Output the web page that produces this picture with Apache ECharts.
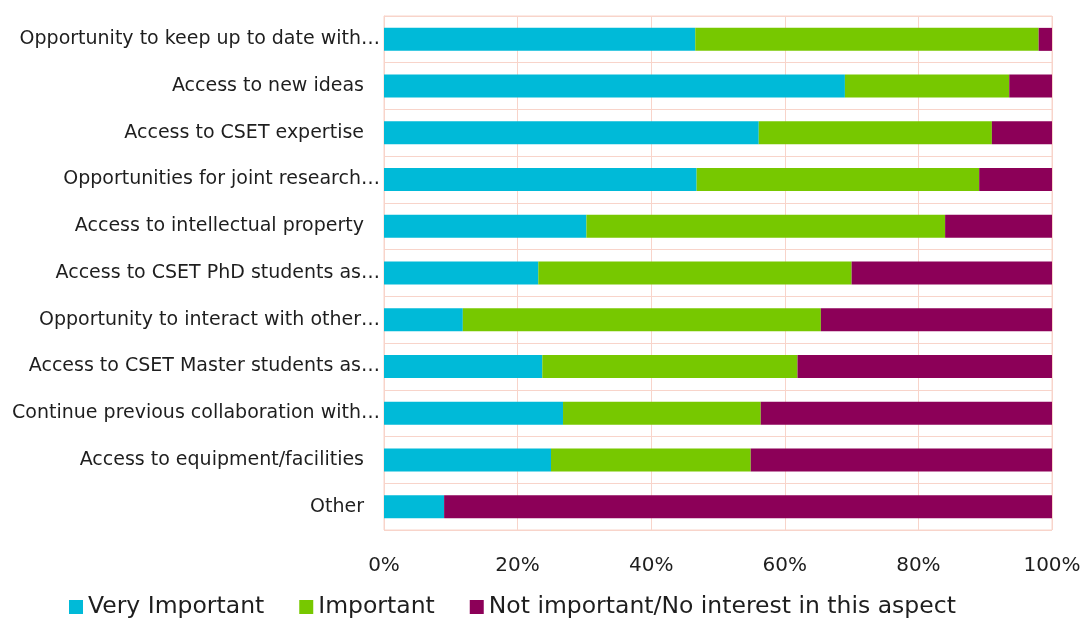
<!DOCTYPE html>
<html>
<head>
<meta charset="utf-8">
<title>Reasons for collaboration</title>
<script src="https://cdn.jsdelivr.net/npm/echarts@6/dist/echarts.min.js"></script>
<style>
  html, body { margin: 0; padding: 0; background: #ffffff; }
  #chart { width: 1088px; height: 619px; }
</style>
</head>
<body>
<div id="chart"></div>
<script>
// Survey aspects, top to bottom
const categories = [
  'Opportunity to keep up to date with…',
  'Access to new ideas',
  'Access to CSET expertise',
  'Opportunities for joint research…',
  'Access to intellectual property',
  'Access to CSET PhD students as…',
  'Opportunity to interact with other…',
  'Access to CSET Master students as…',
  'Continue previous collaboration with…',
  'Access to equipment/facilities',
  'Other'
];

// Share of respondents (%) per answer
const veryImportant = [46.6, 69.0, 56.1, 46.8, 30.3, 23.1, 11.8, 23.7, 26.8, 25.0, 9.0];
const important     = [51.4, 24.6, 34.9, 42.3, 53.7, 46.9, 53.6, 38.2, 29.6, 29.9, 0.0];
const notImportant  = [2.0, 6.4, 9.0, 10.9, 16.0, 30.0, 34.6, 38.1, 43.6, 45.1, 91.0];

const seriesNames = ['Very Important', 'Important', 'Not important/No interest in this aspect'];
const xTicks = [0, 20, 40, 60, 80, 100];

const FONT = '"DejaVu Sans", Verdana, sans-serif';
const GRID_COLOR = '#f8d4ca';
const TEXT_COLOR = '#1e1e1e';

const chart = echarts.init(document.getElementById('chart'));

function barSeries(name, data, color) {
  return {
    name: name,
    type: 'bar',
    stack: 'total',
    data: data,
    barWidth: 23,
    itemStyle: { color: color },
    emphasis: { disabled: true }
  };
}

chart.setOption({
  animation: false,
  textStyle: { fontFamily: FONT },
  grid: {
    left: 384, right: 36, top: 16, bottom: 89,
    show: true, borderColor: GRID_COLOR, borderWidth: 1
  },
  legend: {
    data: seriesNames,
    left: 64,
    top: 590,
    icon: 'rect',
    itemWidth: 14,
    itemHeight: 14,
    itemGap: 35,
    textStyle: { fontSize: 23.5, color: TEXT_COLOR, fontFamily: FONT }
  },
  xAxis: {
    type: 'value',
    min: 0, max: 100, interval: 20,
    axisLine: { show: false },
    axisTick: { show: false },
    splitLine: { show: true, lineStyle: { color: GRID_COLOR, width: 1 } },
    axisLabel: {
      margin: 26,
      fontSize: 20,
      color: TEXT_COLOR,
      fontFamily: FONT,
      formatter: v => xTicks.includes(v) ? v + '%' : ''
    }
  },
  yAxis: {
    type: 'category',
    data: categories,
    inverse: true,
    axisLine: { show: true, lineStyle: { color: GRID_COLOR } },
    axisTick: { show: false },
    splitLine: { show: true, lineStyle: { color: GRID_COLOR, width: 1 } },
    axisLabel: {
      margin: 4,
      fontSize: 19,
      color: TEXT_COLOR,
      fontFamily: FONT,
      formatter: v => v.endsWith('…') ? '{t|' + v + '}' : '{p|' + v + '}',
      rich: {
        t: { fontSize: 19, color: TEXT_COLOR, fontFamily: FONT },
        p: { fontSize: 19, color: TEXT_COLOR, fontFamily: FONT, padding: [0, 16, 0, 0] }
      }
    }
  },
  series: [
    barSeries(seriesNames[0], veryImportant, '#00bad8'),
    barSeries(seriesNames[1], important, '#77c800'),
    barSeries(seriesNames[2], notImportant, '#8c0058')
  ]
});
</script>
</body>
</html>
